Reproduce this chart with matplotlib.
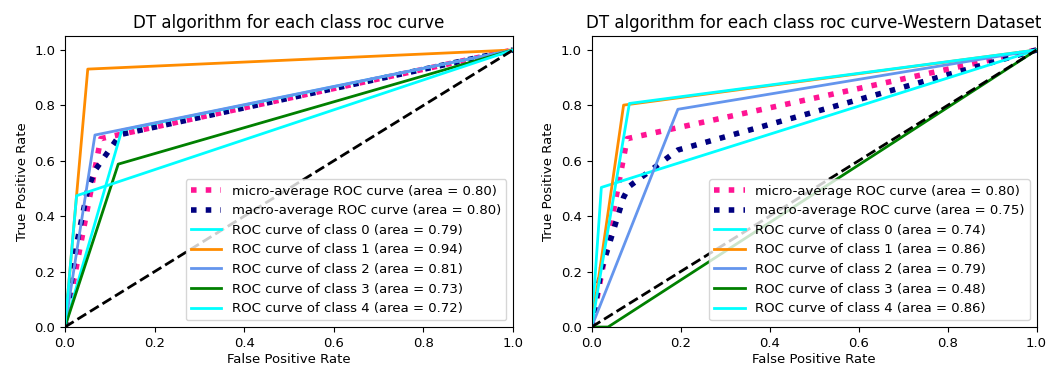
import matplotlib
matplotlib.use('Agg')
import matplotlib.pyplot as plt
import numpy as np

# left panel: DT, per class roc points (fpr, tpr)
left_fpr = [[0, 0.127, 1], [0, 0.051, 1], [0, 0.067, 1], [0, 0.119, 1], [0, 0.026, 1]]
left_tpr = [[0, 0.711, 1], [0, 0.931, 1], [0, 0.693, 1], [0, 0.588, 1], [0, 0.474, 1]]
left_auc = [0.79, 0.94, 0.81, 0.73, 0.72]
left_micro_fpr = [0, 0.08, 1]
left_micro_tpr = [0, 0.68, 1]
left_micro_auc = 0.80
left_macro_fpr = [0, 0.026, 0.051, 0.067, 0.119, 0.127, 1]
left_macro_tpr = [0, 0.298, 0.497, 0.565, 0.685, 0.696, 1]
left_macro_auc = 0.80

# right panel: Western dataset
right_fpr = [[0, 0.022, 1], [0, 0.072, 1], [0, 0.194, 1], [0, 0.037, 1], [0, 0.085, 1]]
right_tpr = [[0, 0.504, 1], [0, 0.801, 1], [0, 0.786, 1], [0, 0.0, 1], [0, 0.807, 1]]
right_auc = [0.74, 0.86, 0.79, 0.48, 0.86]
right_micro_fpr = [0, 0.08, 1]
right_micro_tpr = [0, 0.68, 1]
right_micro_auc = 0.80
right_macro_fpr = [0, 0.022, 0.037, 0.072, 0.085, 0.194, 1]
right_macro_tpr = [0, 0.209, 0.285, 0.468, 0.508, 0.639, 1]
right_macro_auc = 0.75

colors = ['aqua', 'darkorange', 'cornflowerblue', 'green', 'aqua']
lw = 2
fs = 9.5


def roc_panel(ax, fpr, tpr, roc_auc, mfpr, mtpr, mauc, Mfpr, Mtpr, Mauc, title):
    ax.plot(mfpr, mtpr, label='micro-average ROC curve (area = {0:0.2f})'.format(mauc),
            color='deeppink', linestyle=':', linewidth=4)
    ax.plot(Mfpr, Mtpr, label='macro-average ROC curve (area = {0:0.2f})'.format(Mauc),
            color='navy', linestyle=':', linewidth=4)
    for i, color in enumerate(colors):
        ax.plot(fpr[i], tpr[i], color=color, lw=lw,
                label='ROC curve of class {0} (area = {1:0.2f})'.format(i, roc_auc[i]))
    ax.plot([0, 1], [0, 1], 'k--', lw=lw)
    ax.set_xlim([0.0, 1.0])
    ax.set_ylim([0.0, 1.05])
    ax.set_xlabel('False Positive Rate', fontsize=fs, labelpad=2)
    ax.set_ylabel('True Positive Rate', fontsize=fs)
    ax.tick_params(labelsize=fs)
    ax.set_title(title, fontsize=12)
    ax.legend(loc='lower right', fontsize=fs, handlelength=2.3)


fig = plt.figure(figsize=(10.47, 3.65), dpi=100)
ax1 = fig.add_axes([0.062, 0.104, 0.428, 0.797])
ax2 = fig.add_axes([0.565, 0.104, 0.425, 0.797])

roc_panel(ax1, left_fpr, left_tpr, left_auc, left_micro_fpr, left_micro_tpr, left_micro_auc,
          left_macro_fpr, left_macro_tpr, left_macro_auc, 'DT algorithm for each class roc curve')
roc_panel(ax2, right_fpr, right_tpr, right_auc, right_micro_fpr, right_micro_tpr, right_micro_auc,
          right_macro_fpr, right_macro_tpr, right_macro_auc,
          'DT algorithm for each class roc curve-Western Dataset')

fig.savefig('out.png', dpi=100)
